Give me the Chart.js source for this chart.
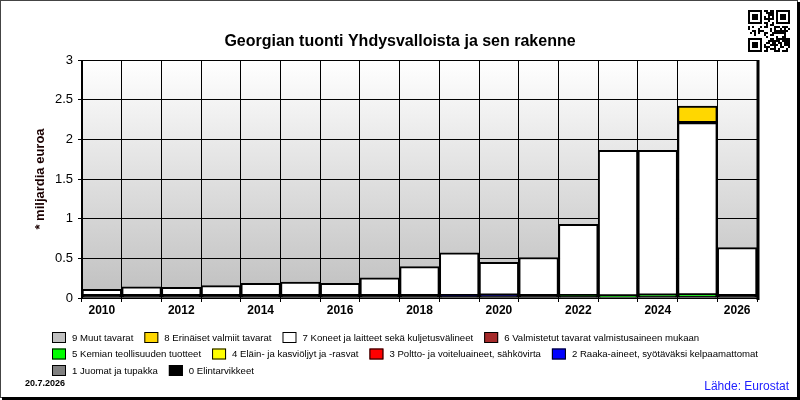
<!DOCTYPE html>
<html>
<head>
<meta charset="utf-8">
<script src="https://cdn.jsdelivr.net/npm/chart.js@4"></script>
<style>
  html, body { margin: 0; padding: 0; background: #fff; }
  #wrap { width: 800px; height: 400px; }
</style>
</head>
<body>
<div id="wrap"><canvas id="c" width="800" height="400"></canvas></div>
<script>
// Georgian tuonti Yhdysvalloista, mrd €, SITC-pääryhmittäin
const YEARS = ['2010','2011','2012','2013','2014','2015','2016','2017','2018','2019','2020','2021','2022','2023','2024','2025','2026'];
const FOOD     = [0.03,0.03,0.03,0.03,0.03,0.03,0.03,0.03,0.03,0.02,0.03,0.03,0.02,0.015,0.02,0.02,0.03];
const DRINKS   = [0,0,0,0,0,0,0,0,0,0,0,0,0,0,0,0,0];
const RAW      = [0,0,0,0,0,0,0,0,0,0.01,0.005,0,0,0,0,0,0];
const FUELS    = [0,0,0,0,0,0,0,0,0,0,0,0,0,0,0,0,0];
const OILS     = [0,0,0,0,0,0,0,0,0,0,0,0,0,0,0,0,0];
const CHEM     = [0,0,0,0,0,0,0,0,0,0,0,0,0.01,0.01,0.015,0.02,0];
const MANUF    = [0,0,0,0,0,0,0,0,0,0,0,0,0,0,0,0,0];
const MACHINES = [0.08,0.11,0.105,0.125,0.155,0.17,0.155,0.225,0.365,0.54,0.415,0.48,0.90,1.835,1.825,2.17,0.605];
const MISC     = [0,0,0,0,0,0,0,0,0,0,0,0,0,0,0,0.21,0];
const OTHER    = [0,0,0,0,0,0,0,0,0,0,0,0,0,0,0,0,0];
const Y_TICKS  = [0, 0.5, 1, 1.5, 2, 2.5, 3];

const LABELS = ['0 Elintarvikkeet','1 Juomat ja tupakka','2 Raaka-aineet, syötäväksi kelpaamattomat',
  '3 Poltto- ja voiteluaineet, sähkövirta','4 Eläin- ja kasviöljyt ja -rasvat','5 Kemian teollisuuden tuotteet',
  '6 Valmistetut tavarat valmistusaineen mukaan','7 Koneet ja laitteet sekä kuljetusvälineet',
  '8 Erinäiset valmiit tavarat','9 Muut tavarat'];
const COLORS = ['#000000','#808080','#0000ff','#ff0000','#ffff00','#00ff00','#a52a2a','#ffffff','#ffd700','#c0c0c0'];
const SERIES = [FOOD, DRINKS, RAW, FUELS, OILS, CHEM, MANUF, MACHINES, MISC, OTHER];

const FONT = "'Liberation Sans', Arial, sans-serif";

const decor = {
  id: 'decor',
  beforeDraw(ch) {
    const { ctx, chartArea: a } = ch;
    ctx.save();
    const g = ctx.createLinearGradient(0, a.top, 0, a.bottom);
    g.addColorStop(0, '#ffffff'); g.addColorStop(1, '#c0c0c0');
    ctx.fillStyle = g; ctx.fillRect(a.left, a.top, a.right - a.left, a.bottom - a.top);
    ctx.restore();
  },
  afterDraw(ch) {
    const { ctx, chartArea: a } = ch;
    ctx.save();
    // plot frame
    ctx.strokeStyle = '#000'; ctx.lineWidth = 1;
    ctx.beginPath(); ctx.moveTo(a.left, a.top + 0.5); ctx.lineTo(a.right, a.top + 0.5); ctx.stroke();
    ctx.lineWidth = 3;
    ctx.beginPath(); ctx.moveTo(a.right + 1, a.top); ctx.lineTo(a.right + 1, a.bottom + 2); ctx.stroke();
    // outer frame with shadow
    ctx.lineWidth = 1; ctx.strokeStyle = '#444';
    ctx.strokeRect(0.5, 0.5, 797, 397);
    ctx.fillStyle = '#000';
    ctx.fillRect(797, 2, 3, 398); ctx.fillRect(2, 397, 798, 3);
    // title
    ctx.fillStyle = '#000'; ctx.font = 'bold 16px ' + FONT;
    ctx.textAlign = 'center'; ctx.textBaseline = 'middle';
    ctx.fillText('Georgian tuonti Yhdysvalloista ja sen rakenne', 400, 42);
    // y axis title
    ctx.save(); ctx.translate(40, (a.top + a.bottom) / 2); ctx.rotate(-Math.PI / 2);
    ctx.font = 'bold 13px ' + FONT; ctx.fillStyle = '#1a0000';
    ctx.fillText('* miljardia euroa', 0, 0); ctx.restore();
    // legend (reverse order, flowing rows)
    ctx.font = '9.6px ' + FONT; ctx.textAlign = 'left';
    let x = 52, y = 332;
    for (let i = LABELS.length - 1; i >= 0; i--) {
      const w = 20 + ctx.measureText(LABELS[i]).width;
      if (x > 52 && x + w > 762) { x = 52; y += 16.5; }
      ctx.fillStyle = COLORS[i]; ctx.fillRect(x, y, 14, 11);
      ctx.strokeStyle = '#000'; ctx.lineWidth = 1; ctx.strokeRect(x + 0.5, y + 0.5, 13, 10);
      ctx.fillStyle = '#000'; ctx.fillText(LABELS[i], x + 20, y + 6);
      x += w + 11;
    }
    // date & source
    ctx.font = 'bold 9px ' + FONT; ctx.fillText('20.7.2026', 25, 384);
    ctx.font = '12px ' + FONT; ctx.fillStyle = '#2020ff'; ctx.textAlign = 'right';
    ctx.fillText('Lähde: Eurostat', 789, 387);
    // QR-like badge
    const bits = '1f3a5c7e92b4d6f80a1c3e5b7d9f2468ace13579bdf0246';
    const n = 21, m = 2, qx = 748, qy = 10;
    ctx.fillStyle = '#000';
    const finder = (fx, fy) => {
      ctx.fillRect(qx + fx * m, qy + fy * m, 7 * m, 7 * m);
      ctx.fillStyle = '#fff'; ctx.fillRect(qx + (fx + 1) * m, qy + (fy + 1) * m, 5 * m, 5 * m);
      ctx.fillStyle = '#000'; ctx.fillRect(qx + (fx + 2) * m, qy + (fy + 2) * m, 3 * m, 3 * m);
    };
    finder(0, 0); finder(14, 0); finder(0, 14);
    let k = 0;
    for (let r = 0; r < n; r++) for (let c = 0; c < n; c++) {
      if ((r < 8 && c < 8) || (r < 8 && c > 12) || (r > 12 && c < 8)) continue;
      const v = parseInt(bits[k % bits.length], 16); k++;
      if ((v >> ((r + c) % 4)) & 1) ctx.fillRect(qx + c * m, qy + r * m, m, m);
    }
    ctx.restore();
  }
};

new Chart(document.getElementById('c'), {
  type: 'bar',
  data: {
    labels: YEARS,
    datasets: SERIES.map((d, i) => ({
      label: LABELS[i], data: d, backgroundColor: COLORS[i],
      borderColor: '#000', borderWidth: 2, borderSkipped: false,
      barPercentage: 1, categoryPercentage: 1
    }))
  },
  options: {
    responsive: false, animation: false,
    layout: { padding: { left: 42, right: 43, top: 60, bottom: 82 } },
    plugins: { legend: { display: false }, title: { display: false }, tooltip: { enabled: false } },
    scales: {
      x: {
        stacked: true,
        afterFit: s => { s.height = 20; },
        grid: { color: '#000', borderDash: [1, 2], lineWidth: 1, tickLength: 4, tickBorderDash: [], offset: true },
        border: { color: '#000', width: 1 },
        ticks: { autoSkip: false, maxRotation: 0, padding: 1, color: '#000',
                 font: { family: FONT, size: 12, weight: 'bold' },
                 callback: (v, i) => (i % 2 === 0 ? YEARS[i] : '') }
      },
      y: {
        stacked: true, min: 0, max: 3,
        afterFit: s => { s.width = 40; },
        afterBuildTicks: s => { s.ticks = Y_TICKS.map(v => ({ value: v })); },
        grid: { color: '#000', borderDash: [1, 2], lineWidth: 1, tickLength: 4, tickBorderDash: [] },
        border: { color: '#000', width: 1 },
        ticks: { padding: 5, color: '#000', font: { family: FONT, size: 13 }, callback: v => String(v) }
      }
    }
  },
  plugins: [decor]
});
</script>
</body>
</html>
